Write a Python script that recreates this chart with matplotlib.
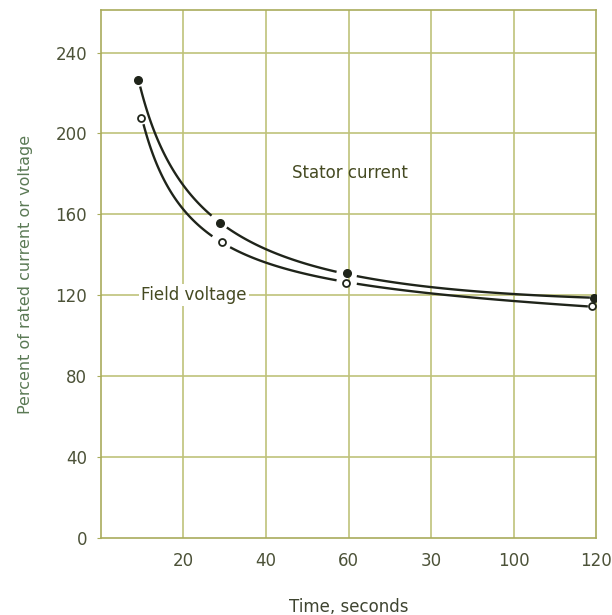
import numpy as np
import matplotlib.pyplot as plt

# Marker points
stator_x = [9.0, 28.8, 59.6, 119.5]
stator_y = [226.5, 155.5, 131.0, 118.5]
field_x = [9.7, 29.3, 59.4, 119.0]
field_y = [207.5, 146.5, 126.0, 114.8]

# Points
stator_tx = [9.5, 13.1, 15.9, 20.0, 26.8, 30.5, 43.4, 57.1, 62.0, 79.8, 100.0, 118.5]
stator_ty = [223.0, 200.0, 188.3, 174.3, 158.7, 153.0, 140.7, 131.5, 129.4, 124.0, 120.8, 118.7]
field_tx = [10.3, 12.7, 15.9, 20.0, 26.8, 31.3, 43.4, 57.1, 62.0, 79.8, 100.0, 118.5]
field_ty = [204.8, 189.0, 175.2, 160.3, 149.6, 144.7, 135.6, 126.9, 124.9, 120.3, 117.0, 115.0]

# drawn pieces of each curve (breaks around the markers)
stator_pieces = [(9.5, 26.8), (30.5, 57.1), (62.0, 118.5)]
field_pieces = [(10.3, 27.0), (31.3, 57.1), (62.0, 118.0)]

x_ticks = [20, 40, 60, 80, 100, 120]
x_labels = ['20', '40', '60', '30', '100', '120']
y_ticks = [0, 40, 80, 120, 160, 200, 240]

grid_col = '#bfc27a'
text_col = '#4c5238'
line_col = '#1f241a'

fig = plt.figure(figsize=(6.12, 6.15), dpi=100)
ax = fig.add_axes([0.165, 0.1252, 0.809, 0.8585])
ax.set_xlim(0, 120)
ax.set_ylim(0, 261)

for v in range(20, 120, 20):
    ax.axvline(v, color=grid_col, lw=1.2, zorder=1)
for v in range(40, 260, 40):
    ax.axhline(v, color=grid_col, lw=1.2, zorder=1)


def draw_curve(tx, ty, pieces):
    # smooth the traced points with a cubic in log(x)
    c = np.polyfit(np.log(tx), ty, 3)
    for a, b in pieces:
        xx = np.linspace(a, b, 80)
        ax.plot(xx, np.polyval(c, np.log(xx)), color=line_col, lw=1.7, zorder=3,
                solid_capstyle='butt')


draw_curve(stator_tx, stator_ty, stator_pieces)
draw_curve(field_tx, field_ty, field_pieces)

ax.plot(stator_x, stator_y, 'o', ms=5.5, color=line_col, zorder=4)
ax.plot(field_x, field_y, 'o', ms=5, mfc='white', mec=line_col, mew=1.3, zorder=4)

ax.text(60.4, 180.5, 'Stator current', ha='center', va='center', fontsize=12,
        color='#454a22', zorder=5)
ax.text(22.5, 120, 'Field voltage', ha='center', va='center', fontsize=12,
        color='#454a22', zorder=5,
        bbox=dict(facecolor='white', edgecolor='none', pad=1.5))

for s in ax.spines.values():
    s.set_color('#a9ac5c')
    s.set_linewidth(1.2)

ax.set_xticks(x_ticks)
ax.set_xticklabels(x_labels)
ax.set_yticks(y_ticks)
ax.tick_params(axis='x', length=0, pad=10, labelsize=12, labelcolor=text_col)
ax.tick_params(axis='y', length=3, pad=7, labelsize=12, labelcolor=text_col,
               color='#a9ac5c')

ax.set_xlabel('Time, seconds', fontsize=12, color='#3e4430', labelpad=20)
ax.set_ylabel('Percent of rated current or voltage', fontsize=11.5,
              color='#5b7a55', labelpad=16)

fig.savefig('out.png', dpi=100)
